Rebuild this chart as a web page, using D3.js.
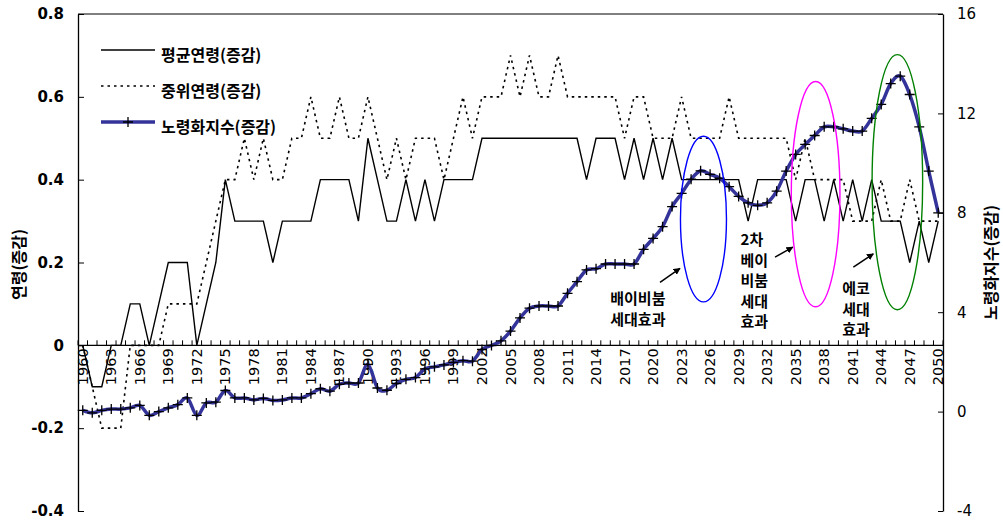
<!DOCTYPE html>
<html><head><meta charset="utf-8">
<script src="https://cdn.jsdelivr.net/npm/d3@7"></script>
<style>body{margin:0;background:#fff}svg{display:block}</style>
</head><body><svg id="c" width="1003" height="523"></svg>
<script>
// ---------------- data ----------------
const years = d3.range(1960, 2051);
const meanAge = [
 0,-0.1,-0.1,0,0,0.1,0.1,0,0.1,0.2,
 0.2,0.2,0,0.1,0.2,0.4,0.3,0.3,0.3,0.3,
 0.2,0.3,0.3,0.3,0.3,0.4,0.4,0.4,0.4,0.3,
 0.5,0.4,0.3,0.3,0.4,0.3,0.4,0.3,0.4,0.4,
 0.4,0.4,0.5,0.5,0.5,0.5,0.5,0.5,0.5,0.5,
 0.5,0.5,0.5,0.4,0.5,0.5,0.5,0.4,0.5,0.4,
 0.5,0.4,0.5,0.4,0.4,0.4,0.4,0.4,0.4,0.4,
 0.3,0.4,0.4,0.4,0.4,0.3,0.4,0.4,0.3,0.4,
 0.3,0.4,0.3,0.4,0.3,0.3,0.3,0.2,0.3,0.2,
 0.3];
const medianAge = [
 0,-0.1,-0.2,-0.2,-0.2,0,0,0,0,0.1,
 0.1,0.1,0.1,0.2,0.3,0.4,0.4,0.5,0.4,0.5,
 0.4,0.4,0.5,0.5,0.6,0.5,0.5,0.6,0.5,0.5,
 0.6,0.5,0.4,0.5,0.4,0.5,0.5,0.5,0.4,0.5,
 0.6,0.5,0.6,0.6,0.6,0.7,0.6,0.7,0.6,0.6,
 0.7,0.6,0.6,0.6,0.6,0.6,0.6,0.5,0.6,0.6,
 0.5,0.5,0.5,0.6,0.5,0.5,0.5,0.5,0.6,0.5,
 0.5,0.5,0.5,0.5,0.5,0.4,0.5,0.4,0.4,0.4,
 0.4,0.3,0.3,0.3,0.4,0.3,0.3,0.4,0.3,0.3,
 0.3];
const agingIndex = [
 0.05,-0.05,0.05,0.1,0.1,0.15,0.25,-0.15,0.0,0.15,
 0.28,0.55,-0.15,0.35,0.38,0.85,0.55,0.55,0.47,0.53,
 0.45,0.47,0.55,0.55,0.72,0.92,0.82,1.1,1.15,1.15,
 1.9,0.95,0.86,1.13,1.3,1.37,1.72,1.8,1.88,1.98,
 2.05,2.03,2.5,2.66,2.85,3.24,3.77,4.16,4.25,4.25,
 4.25,4.76,5.23,5.7,5.75,5.94,5.94,5.94,5.94,6.53,
 6.97,7.44,8.25,8.78,9.35,9.69,9.55,9.39,9.05,8.66,
 8.4,8.3,8.4,8.87,9.68,10.35,10.75,11.11,11.46,11.46,
 11.38,11.29,11.29,11.8,12.36,13.2,13.5,12.76,11.46,9.68,
 8.0];
const seriesNames = ["평균연령(증감)", "중위연령(증감)", "노령화지수(증감)"];
const leftTicks = [-0.4, -0.2, 0, 0.2, 0.4, 0.6, 0.8];
const rightTicks = [-4, 0, 4, 8, 12, 16];
const xTickLabels = years.filter(y => (y - 1960) % 3 === 0);
const leftTitle = "연령(증감)";
const rightTitle = "노령화지수(증감)";
// annotations in data coordinates (year, left-axis value)
const ellipses = [
  {cx: 2025.3, cy: 0.305, rx: 2.42, ry: 0.200, color: "#0000ff"},
  {cx: 2037.1, cy: 0.365, rx: 2.56, ry: 0.272, color: "#ff00ff"},
  {cx: 2045.7, cy: 0.394, rx: 2.66, ry: 0.308, color: "#008000"}
];
const notes = [
  {x: 2018.4, y: 0.115, lines: ["배이비붐", "세대효과"], anchor: "middle"},
  {x: 2029.2, y: 0.257, lines: ["2차", "베이", "비붐", "세대", "효과"], anchor: "start"},
  {x: 2039.9, y: 0.139, lines: ["에코", "세대", "효과"], anchor: "start"}
];
const arrows = [
  {x1: 2020.73, y1: 0.152, x2: 2022.83, y2: 0.186},
  {x1: 2032.83, y1: 0.213, x2: 2034.70, y2: 0.237},
  {x1: 2041.07, y1: 0.189, x2: 2043.17, y2: 0.221}
];

// ---------------- layout ----------------
const L = 78, R = 943, T = 14, B = 511;
const svg = d3.select("#c");
const x = d3.scalePoint().domain(years).range([L, R]).padding(0.5);
const step = x.step();
const xc = v => x(1960) + (v - 1960) * step; // continuous year -> px for annotations
const yL = d3.scaleLinear().domain([-0.4, 0.8]).range([B, T]);
const yR = d3.scaleLinear().domain([-4, 16]).range([B, T]);
const numFont = "'DejaVu Sans', Verdana, sans-serif";
const korFont = "'Noto Sans CJK KR', sans-serif";
const hy = s => String(s).replace("\u2212", "-");

svg.append("rect").attr("width", 1003).attr("height", 523).attr("fill", "#fff");

// frame
svg.append("line").attr("x1", L).attr("x2", R).attr("y1", T).attr("y2", T).attr("stroke", "#000").attr("stroke-width", 1);
// left axis
const gl = svg.append("g").attr("transform", `translate(${L},0)`)
  .call(d3.axisLeft(yL).tickValues(leftTicks).tickSizeInner(-6).tickSizeOuter(0).tickPadding(14)
        .tickFormat(d => d === 0 ? "0" : hy(d3.format(".1f")(d))));
gl.select(".domain").attr("stroke-width", 1.3);
gl.selectAll("text").attr("font-family", numFont).attr("font-weight", "bold").attr("font-size", 15).attr("fill", "#000");
// right axis
const gr = svg.append("g").attr("transform", `translate(${R},0)`)
  .call(d3.axisRight(yR).tickValues(rightTicks).tickSizeInner(-5).tickSizeOuter(0).tickPadding(14)
        .tickFormat(d => hy(d3.format("d")(d))));
gr.select(".domain").attr("stroke-width", 1.3);
gr.selectAll("text").attr("font-family", numFont).attr("font-size", 15).attr("fill", "#000");

// x axis at zero
const y0 = yL(0);
const gx = svg.append("g");
gx.append("line").attr("x1", L).attr("x2", R).attr("y1", y0).attr("y2", y0).attr("stroke", "#000").attr("stroke-width", 1.3);
gx.selectAll("line.tk").data(years.concat([2051])).join("line").attr("class", "tk")
  .attr("x1", d => xc(d) - step / 2).attr("x2", d => xc(d) - step / 2)
  .attr("y1", y0).attr("y2", y0 - 5).attr("stroke", "#000").attr("stroke-width", 1);
gx.selectAll("text").data(xTickLabels).join("text")
  .attr("transform", d => `translate(${x(d)},${y0 + 3}) rotate(-90)`)
  .attr("text-anchor", "end").attr("dominant-baseline", "central")
  .attr("font-family", numFont).attr("font-size", 14.5).text(d => d);

// series
svg.append("path").datum(years.map((yr, i) => [x(yr), yL(meanAge[i])]))
  .attr("d", d3.line()).attr("fill", "none").attr("stroke", "#000").attr("stroke-width", 1.4);
svg.append("path").datum(years.map((yr, i) => [x(yr), yL(medianAge[i])]))
  .attr("d", d3.line()).attr("fill", "none").attr("stroke", "#000").attr("stroke-width", 1.6)
  .attr("stroke-dasharray", "2.5,4");
svg.append("path").datum(years.map((yr, i) => [x(yr), yR(agingIndex[i])]))
  .attr("d", d3.line().curve(d3.curveCardinal.tension(0))).attr("fill", "none")
  .attr("stroke", "#333399").attr("stroke-width", 3.5).attr("stroke-linejoin", "round");
const plus = "M-5,0H5M0,-5V5";
svg.append("g").selectAll("path").data(years).join("path")
  .attr("transform", (yr, i) => `translate(${x(yr)},${yR(agingIndex[i])})`)
  .attr("d", plus).attr("stroke", "#000").attr("stroke-width", 1.3).attr("fill", "none");

// annotations
const ga = svg.append("g");
ellipses.forEach(e => {
  ga.append("ellipse").attr("cx", xc(e.cx)).attr("cy", yL(e.cy))
    .attr("rx", e.rx * step).attr("ry", yL(0) - yL(e.ry))
    .attr("fill", "none").attr("stroke", e.color).attr("stroke-width", 1.4);
});
svg.append("defs").append("marker").attr("id", "ah").attr("viewBox", "0 0 10 10")
  .attr("refX", 9).attr("refY", 5).attr("markerWidth", 7).attr("markerHeight", 7)
  .attr("markerUnits", "userSpaceOnUse").attr("orient", "auto")
  .append("path").attr("d", "M0,0L10,5L0,10z").attr("fill", "#000");
arrows.forEach(a => {
  ga.append("line").attr("x1", xc(a.x1)).attr("y1", yL(a.y1)).attr("x2", xc(a.x2)).attr("y2", yL(a.y2))
    .attr("stroke", "#000").attr("stroke-width", 1.5).attr("marker-end", "url(#ah)");
});
notes.forEach(n => {
  n.lines.forEach((t, k) => {
    ga.append("text").attr("x", xc(n.x)).attr("y", yL(n.y) + k * 20.5)
      .attr("text-anchor", n.anchor).attr("dominant-baseline", "central")
      .attr("font-family", korFont).attr("font-weight", "bold").attr("font-size", 15).text(t);
  });
});

// legend
const lg = svg.append("g");
const legY = [50, 86, 122];
const legStyles = [
  {stroke: "#000", w: 1.4, dash: null},
  {stroke: "#000", w: 1.6, dash: "2.5,4"},
  {stroke: "#333399", w: 3.5, dash: null}
];
seriesNames.forEach((name, i) => {
  lg.append("line").attr("x1", 101).attr("x2", 155).attr("y1", legY[i]).attr("y2", legY[i])
    .attr("stroke", legStyles[i].stroke).attr("stroke-width", legStyles[i].w)
    .attr("stroke-dasharray", legStyles[i].dash);
  if (i === 2) lg.append("path").attr("transform", `translate(128,${legY[i]})`).attr("d", plus)
    .attr("stroke", "#000").attr("stroke-width", 1.3);
  lg.append("text").attr("x", 161).attr("y", legY[i] + 4).attr("dominant-baseline", "central")
    .attr("font-family", korFont).attr("font-weight", "bold").attr("font-size", 16).text(name);
});

// axis titles
svg.append("text").attr("transform", `translate(18,${(T + B) / 2 + 2}) rotate(-90)`)
  .attr("text-anchor", "middle").attr("dominant-baseline", "central")
  .attr("font-family", korFont).attr("font-weight", "bold").attr("font-size", 16).text(leftTitle);
svg.append("text").attr("transform", `translate(990,${(T + B) / 2}) rotate(-90)`)
  .attr("text-anchor", "middle").attr("dominant-baseline", "central")
  .attr("font-family", korFont).attr("font-weight", "bold").attr("font-size", 16).text(rightTitle);
</script></body></html>
